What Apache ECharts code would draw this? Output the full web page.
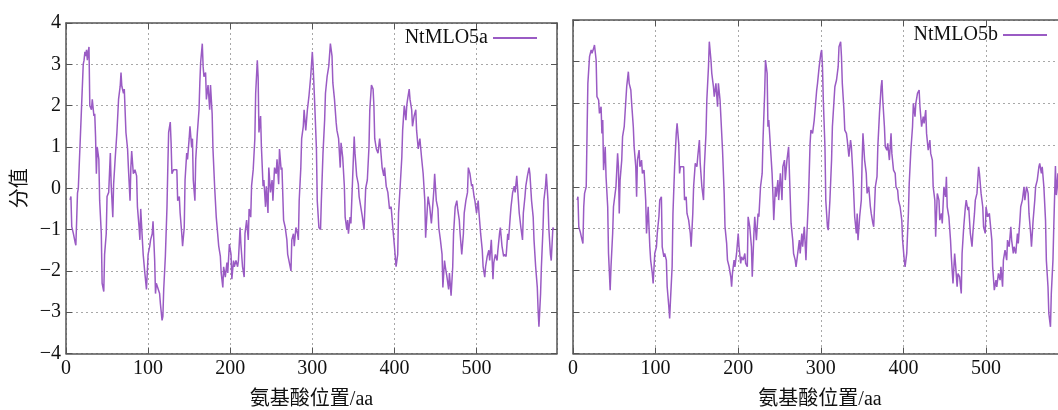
<!DOCTYPE html>
<html>
<head>
<meta charset="utf-8">
<script src="https://cdn.jsdelivr.net/npm/echarts@6/dist/echarts.min.js"></script>
<style>html,body{margin:0;padding:0;background:#fff}#c{width:1058px;height:410px}</style>
</head>
<body>
<div id="c"></div>
<script>
// Hydropathy profiles: [amino-acid position, score]
const seriesA = [[5,-0.28],[6,-0.2],[7,-0.93],[9,-1.1],[11,-1.3],[12,-1.38],[13,-0.77],[14,-0.12],[15,0],[16,0.5],[17,1.0],[19,2.0],[21,3.0],[22,3.1],[23,3.3],[24,3.2],[25,3.35],[26,3.1],[27,3.3],[28,3.42],[29,2.0],[31,1.9],[32,2.15],[34,1.75],[35,1.8],[36,1.25],[37,0.35],[38,1.0],[40,0.7],[41,-0.3],[43,-1.1],[44,-2.3],[46,-2.5],[47,-1.6],[49,-1.1],[50,-0.2],[52,-0.1],[54,0.85],[55,0.1],[57,-0.7],[58,0.1],[60,0.75],[62,1.35],[64,2.15],[66,2.47],[67,2.8],[68,2.47],[70,2.3],[71,2.4],[73,1.35],[75,0.95],[76,0.5],[78,-0.3],[79,0.5],[80,0.9],[82,0.35],[84,0.45],[86,0.3],[87,-0.45],[89,-0.95],[90,-1.25],[91,-0.5],[93,-1.25],[94,-1.6],[96,-2.05],[98,-2.45],[100,-1.6],[102,-1.4],[103,-1.25],[105,-1.1],[106,-0.8],[108,-1.75],[109,-2.55],[110,-2.3],[112,-2.3],[114,-2.55],[115,-2.8],[117,-3.2],[118,-3.1],[119,-2.45],[121,-1.65],[123,-0.45],[124,0.5],[125,1.35],[127,1.6],[128,1.1],[129,0.35],[131,0.45],[133,0.45],[135,0.45],[136,-0.3],[138,-0.2],[139,-0.6],[141,-1.1],[142,-1.4],[144,-0.95],[145,0.2],[147,0.85],[148,0.7],[150,1.2],[151,1.5],[153,1.0],[154,1.2],[155,0.2],[157,-0.3],[158,0.7],[160,1.35],[162,1.9],[163,2.55],[164,3.05],[166,3.5],[167,2.95],[168,2.7],[170,2.8],[171,2.15],[173,2.5],[175,1.9],[176,2.5],[178,1.8],[179,0.95],[181,0.05],[183,-0.7],[186,-1.4],[188,-1.65],[189,-2.05],[191,-2.4],[192,-1.9],[194,-2.15],[196,-1.8],[197,-2.05],[199,-1.35],[201,-1.6],[202,-2.2],[204,-1.75],[205,-1.9],[207,-1.75],[209,-1.9],[210,-1.75],[212,-0.95],[213,-1.35],[215,-1.9],[217,-2.15],[218,-1.1],[220,-0.77],[222,-1.25],[223,-0.5],[225,-0.7],[226,0.05],[228,0.45],[230,1.2],[231,2.3],[233,3.1],[234,2.7],[235,1.35],[237,1.75],[238,1.0],[240,0.05],[241,0.2],[243,-0.45],[244,0.05],[246,-0.6],[247,0.5],[249,-0.1],[251,0.2],[252,-0.3],[254,0.5],[256,0.35],[257,0.7],[259,0.1],[260,0.95],[262,0.45],[263,0.5],[265,-0.77],[267,-0.95],[269,-1.25],[270,-1.6],[272,-1.8],[274,-2.0],[275,-1.25],[277,-1.1],[278,-1.4],[280,-0.95],[282,-1.1],[283,-1.25],[284,-0.3],[286,0.5],[287,1.2],[289,1.5],[290,1.9],[292,1.4],[294,1.9],[296,2.25],[298,2.7],[300,3.3],[301,2.95],[303,2.0],[305,0.95],[306,-0.3],[308,-0.95],[310,-1.0],[311,-0.3],[313,0.85],[315,1.65],[316,2.3],[318,2.7],[320,2.95],[322,3.5],[324,3.2],[325,2.55],[327,2.15],[329,1.6],[330,1.4],[332,1.2],[334,0.5],[335,1.1],[337,0.75],[339,0.05],[340,-0.7],[342,-1.0],[343,-0.77],[344,-1.1],[346,-0.7],[347,-0.85],[349,0.2],[351,1.25],[352,0.85],[354,0.3],[356,0.1],[357,-0.2],[359,-0.45],[361,-0.7],[363,-1.0],[365,0],[367,0.2],[369,1.0],[370,1.9],[372,2.5],[374,2.4],[375,2.0],[376,1.2],[378,0.95],[380,0.85],[382,1.2],[383,1.0],[385,0.5],[387,0.3],[388,0.5],[390,0.05],[392,-0.1],[394,-0.5],[396,-0.45],[398,-0.95],[400,-1.4],[402,-1.9],[404,-1.6],[405,-0.6],[407,0.05],[409,0.75],[410,1.4],[412,2.0],[414,1.65],[415,2.0],[416,2.15],[418,2.4],[419,2.15],[421,1.9],[422,1.5],[424,1.75],[426,1.9],[427,1.4],[429,0.95],[431,1.2],[433,0.75],[435,0.35],[437,-0.3],[438,-1.2],[440,-0.5],[441,-0.2],[443,-0.45],[445,-0.85],[446,-0.6],[448,-0.05],[449,0.35],[451,-0.3],[453,-0.5],[454,-0.95],[456,-1.25],[458,-1.6],[459,-2.4],[461,-1.75],[462,-1.9],[464,-2.15],[466,-2.45],[467,-2.05],[469,-2.6],[471,-1.9],[472,-1.1],[474,-0.45],[476,-0.3],[477,-0.5],[479,-0.77],[480,-1.1],[482,-1.6],[484,-1.1],[485,-0.6],[487,-0.3],[489,-0.1],[490,0.5],[492,0.35],[494,0.05],[495,0.1],[497,-0.2],[498,-0.3],[500,-0.6],[502,-0.3],[503,-0.6],[505,-1.1],[507,-1.5],[508,-1.9],[510,-2.15],[511,-1.9],[513,-1.65],[515,-1.5],[516,-1.75],[518,-1.25],[520,-2.2],[521,-1.8],[523,-1.6],[525,-1.75],[526,-1.5],[528,-1.1],[529,-0.95],[531,-1.4],[533,-1.65],[534,-1.6],[536,-1.65],[538,-1.1],[539,-1.25],[541,-0.7],[542,-0.45],[544,-0.1],[546,0.05],[547,-0.1],[549,0.3],[551,-0.3],[552,-0.6],[554,-0.95],[556,-1.25],[557,-0.6],[559,-0.2],[560,0.05],[562,0.3],[564,0.5],[565,0.35],[567,-0.3],[569,-0.7],[570,-1.25],[572,-1.9],[574,-2.4],[575,-2.95],[576,-3.35],[578,-2.55],[579,-1.9],[581,-0.95],[582,-0.3],[584,0.05],[585,0.35],[587,-0.3],[588,-0.95],[590,-1.6],[591,-1.75],[593,-0.95],[594,-1.0]];

const seriesB = [[5,-0.32],[6,-0.24],[7,-0.96],[9,-1.1],[11,-1.28],[12,-1.36],[13,-0.48],[14,-0.16],[16,0],[17,1.28],[18,2.48],[20,3.12],[22,3.28],[23,3.2],[25,3.32],[26,3.4],[28,3.04],[29,2.16],[31,2.08],[32,1.76],[34,1.92],[35,1.28],[36,1.6],[37,0.4],[39,0.96],[40,0.24],[42,-0.48],[43,-1.6],[45,-2.48],[46,-1.92],[48,-1.12],[49,-0.48],[51,-0.16],[52,0],[54,0.8],[55,0.48],[56,-0.64],[57,0.16],[59,0.64],[60,1.2],[62,1.44],[64,2.08],[65,2.4],[67,2.76],[68,2.48],[70,2.32],[71,2.0],[73,1.44],[74,0.96],[76,0.48],[77,-0.24],[78,0.64],[80,0.88],[81,0.48],[83,0.64],[84,0.32],[86,0.4],[88,-0.32],[89,-1.12],[91,-0.48],[93,-1.44],[94,-1.76],[96,-2.08],[97,-2.32],[99,-1.6],[101,-1.44],[102,-1.12],[104,-0.72],[105,-0.32],[107,-0.24],[108,-1.44],[110,-1.68],[111,-1.6],[113,-1.76],[114,-2.4],[116,-2.88],[117,-3.16],[118,-2.72],[120,-1.92],[121,-0.64],[123,0.48],[125,1.28],[126,1.52],[128,1.04],[129,0.32],[130,0.48],[132,0.44],[134,0.48],[135,-0.32],[137,-0.24],[138,-0.64],[140,-0.8],[142,-1.12],[143,-1.44],[145,-0.64],[146,0],[148,0.56],[150,0.48],[151,0.72],[153,1.12],[154,0.56],[156,0],[158,-0.32],[159,0.48],[161,1.28],[162,2.08],[164,2.88],[165,3.48],[167,3.04],[168,2.72],[170,2.4],[171,2.16],[173,2.48],[175,1.92],[176,2.48],[178,2.08],[179,1.68],[181,0.88],[183,-0.16],[184,-0.96],[186,-1.36],[187,-1.76],[189,-1.92],[191,-2.16],[192,-2.4],[193,-2.08],[195,-1.76],[196,-1.92],[198,-1.6],[200,-1.12],[201,-1.44],[203,-1.84],[204,-1.68],[206,-1.76],[208,-1.6],[209,-1.84],[211,-1.92],[212,-0.72],[214,-0.96],[216,-1.44],[217,-2.16],[219,-1.12],[220,-0.72],[222,-1.28],[224,-0.64],[225,-0.72],[227,0],[229,0.32],[230,1.12],[232,2.24],[233,3.04],[235,2.72],[236,1.44],[237,1.6],[239,0.96],[241,0.32],[242,-0.16],[243,-0.8],[245,0],[246,-0.24],[248,0.16],[249,-0.32],[251,0.32],[253,-0.32],[254,0.48],[256,0.64],[257,0.16],[259,0.64],[261,0.96],[262,0.32],[264,-0.88],[266,-1.28],[267,-1.6],[269,-1.76],[270,-1.92],[272,-1.96],[274,-1.28],[275,-1.6],[277,-1.12],[278,-1.44],[280,-0.96],[282,-1.76],[283,-1.2],[285,-0.32],[287,1.04],[288,1.36],[290,1.28],[292,1.6],[293,1.84],[295,2.32],[296,2.48],[298,2.88],[300,3.2],[301,3.28],[302,2.88],[303,2.08],[305,0.96],[306,-0.32],[308,-0.96],[309,-1.04],[311,-0.32],[313,0.64],[314,1.44],[316,2.08],[317,2.4],[319,2.56],[321,2.88],[322,3.36],[324,3.48],[325,3.12],[326,2.48],[328,1.84],[329,1.36],[331,1.28],[332,1.12],[334,0.72],[336,1.12],[337,0.96],[339,0.24],[341,-0.72],[343,-1.12],[344,-0.64],[345,-1.28],[347,-0.72],[349,-0.32],[350,0.64],[351,1.28],[353,0.64],[355,0.32],[356,-0.16],[358,0],[360,-0.48],[361,-0.64],[363,-0.88],[364,-0.96],[366,0],[368,0.24],[369,0.96],[371,1.76],[373,2.4],[374,2.56],[375,2.08],[377,1.44],[378,0.96],[380,0.88],[381,1.04],[383,0.64],[385,1.28],[386,0.8],[388,0.4],[390,0.32],[391,0],[393,-0.08],[394,-0.32],[396,-0.48],[398,-0.8],[399,-1.28],[401,-1.76],[402,-1.92],[404,-1.6],[406,-0.64],[407,0.08],[409,0.88],[411,1.44],[412,2.0],[414,1.68],[415,2.0],[417,2.24],[419,2.32],[420,1.92],[422,1.44],[424,1.68],[425,1.52],[427,1.84],[428,1.28],[430,0.88],[432,1.12],[433,0.8],[435,0.64],[436,0],[438,-0.32],[439,-1.2],[441,-0.16],[443,-0.32],[444,-0.8],[446,-0.64],[447,-0.88],[449,0],[451,-0.24],[452,0.24],[453,-0.48],[455,-0.72],[457,-1.28],[458,-1.68],[460,-2.32],[462,-1.6],[463,-1.84],[465,-2.4],[466,-2.08],[468,-2.16],[470,-2.56],[471,-1.6],[473,-0.96],[475,-0.48],[476,-0.32],[478,-0.56],[479,-0.48],[481,-1.12],[483,-1.44],[484,-1.12],[486,-0.64],[487,-0.32],[489,-0.16],[491,0.48],[492,0.32],[494,-0.16],[496,-0.48],[497,-0.96],[499,-1.12],[500,-0.48],[502,-0.72],[504,-0.64],[505,-0.64],[507,-1.28],[508,-1.92],[510,-2.48],[512,-2.24],[513,-2.4],[515,-2.08],[517,-2.24],[518,-1.92],[520,-2.4],[521,-1.76],[523,-1.52],[525,-1.76],[526,-1.28],[528,-1.44],[530,-0.96],[531,-1.28],[533,-1.6],[534,-1.44],[536,-1.6],[538,-1.12],[539,-1.36],[541,-0.8],[542,-0.48],[544,-0.32],[546,0],[547,-0.32],[549,0],[551,-0.16],[552,-0.64],[554,-1.12],[555,-1.44],[557,-0.8],[559,-0.32],[560,0],[562,0.16],[564,0.48],[565,0.56],[567,0.32],[568,0.48],[570,0],[572,-0.8],[573,-1.76],[575,-2.4],[576,-3.04],[578,-3.36],[579,-2.56],[581,-1.76],[582,-0.96],[584,0.5],[585,-0.2],[587,0.32],[588,-0.3],[590,-0.9],[591,-1.5],[593,-0.9],[594,-1.0]];

const seriesNames = ['NtMLO5a', 'NtMLO5b'];
const xTitle = '氨基酸位置/aa';
const yTitle = '分值';

const SERIF = '"Liberation Serif", "Times New Roman", "Noto Sans CJK SC", serif';
const PURPLE = '#9a5bc4';
const BORDER = '#555';
const GRIDC = '#a8a8a8';

function xAx(grid, pos, labels) {
  return {
    type: 'value', gridIndex: grid, position: pos, min: 0, max: 598, interval: 100,
    name: labels ? xTitle : '', nameLocation: 'middle', nameGap: 36,
    nameTextStyle: { fontFamily: SERIF, fontSize: 20, color: '#111' },
    axisLine: { show: true, onZero: false, lineStyle: { color: BORDER, width: 1.5 } },
    axisTick: { show: true, inside: true, length: 6, lineStyle: { color: BORDER } },
    axisLabel: { show: labels, showMaxLabel: false, margin: 5, fontFamily: SERIF, fontSize: 20, color: '#111' },
    splitLine: { show: labels, lineStyle: { color: GRIDC, type: [2, 3], width: 1 } }
  };
}
function yAx(grid, pos, labels, grids) {
  return {
    type: 'value', gridIndex: grid, position: pos, min: -4, max: 4, interval: 1,
    name: labels ? yTitle : '', nameLocation: 'middle', nameGap: 35, nameRotate: 90,
    nameTextStyle: { fontFamily: SERIF, fontSize: 20, color: '#111' },
    axisLine: { show: true, onZero: false, lineStyle: { color: BORDER, width: 1.5 } },
    axisTick: { show: true, inside: true, length: 6, lineStyle: { color: BORDER } },
    axisLabel: { show: labels, margin: 5, fontFamily: SERIF, fontSize: 20, color: '#111',
      formatter: v => (v < 0 ? '\u2212' + Math.abs(v) : String(v)) },
    splitLine: { show: grids, lineStyle: { color: GRIDC, type: [2, 3], width: 1 } }
  };
}

const chart = echarts.init(document.getElementById('c'), null, { renderer: 'canvas' });
chart.setOption({
  animation: false,
  backgroundColor: '#fff',
  grid: [
    { left: 66, top: 23, width: 491, height: 330.5, outerBoundsMode: 'none', containLabel: false },
    { left: 573, top: 20, width: 494, height: 333.5, outerBoundsMode: 'none', containLabel: false }
  ],
  xAxis: [xAx(0, 'bottom', true), xAx(0, 'top', false), xAx(1, 'bottom', true), xAx(1, 'top', false)],
  yAxis: [yAx(0, 'left', true, true), yAx(0, 'right', false, false), yAx(1, 'left', false, true), yAx(1, 'right', false, false)],
  legend: [
    { data: [seriesNames[0]], right: 521, top: 28, align: 'right', padding: 0, icon: 'rect',
      itemWidth: 44, itemHeight: 2, textStyle: { fontFamily: SERIF, fontSize: 20, color: '#111' } },
    { data: [seriesNames[1]], right: 11, top: 25, align: 'right', padding: 0, icon: 'rect',
      itemWidth: 44, itemHeight: 2, textStyle: { fontFamily: SERIF, fontSize: 20, color: '#111' } }
  ],
  series: [
    { name: seriesNames[0], type: 'line', xAxisIndex: 0, yAxisIndex: 0, data: seriesA,
      symbol: 'none', color: PURPLE, lineStyle: { color: PURPLE, width: 1.5 } },
    { name: seriesNames[1], type: 'line', xAxisIndex: 2, yAxisIndex: 2, data: seriesB,
      symbol: 'none', color: PURPLE, lineStyle: { color: PURPLE, width: 1.5 } }
  ]
});
</script>
</body>
</html>
